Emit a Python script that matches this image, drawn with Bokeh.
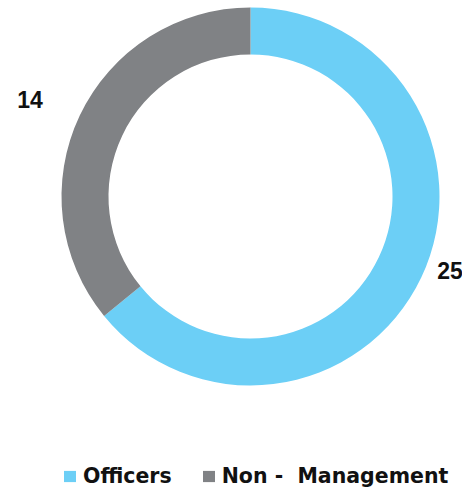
import math
from bokeh.plotting import figure
from bokeh.models import ColumnDataSource, Range1d
from bokeh.core.properties import value
from bokeh.embed import file_html
from bokeh.resources import INLINE

# ---- data ----
categories = ["Officers", "Non -  Management"]
values = [25, 14]
colors = ["#6CCFF6", "#808285"]

# ---- layout (figure pixel space, y up) ----
W, H = 462, 488
cx, cy = 250, 292
r_out, r_in = 189, 142
label_pos_x = [449.5, 29.5]
label_pos_y = [218, 389.5]

total = sum(values)
starts, ends = [], []
a = math.pi / 2
for v in values:
    starts.append(a)
    a = a - 2 * math.pi * v / total
    ends.append(a)

src = ColumnDataSource(dict(
    category=categories, value=values, color=colors,
    start=starts, end=ends,
    x=[cx] * len(values), y=[cy] * len(values),
))

p = figure(width=W, height=H, output_backend="svg", toolbar_location=None,
           x_range=Range1d(0, W), y_range=Range1d(0, H), min_border=0)
p.xaxis.visible = False
p.yaxis.visible = False
p.xgrid.visible = False
p.ygrid.visible = False
p.outline_line_color = None
p.background_fill_color = "white"
p.border_fill_color = "white"

p.annular_wedge(x="x", y="y", inner_radius=r_in, outer_radius=r_out,
                start_angle="start", end_angle="end", direction="clock",
                fill_color="color", line_color=None, source=src,
                legend_field="category")

lab = ColumnDataSource(dict(x=label_pos_x, y=label_pos_y,
                            text=[str(v) for v in values]))
p.text(x="x", y="y", text="text", source=lab, text_align="center",
       text_baseline="middle", text_font=value("Liberation Sans"),
       text_font_style="bold", text_font_size="23px", text_color="#111111")

lg = p.legend[0]
lg.orientation = "horizontal"
lg.location = (62, 0)
lg.glyph_width = 15
lg.glyph_height = 14
lg.label_standoff = 6
lg.spacing = 29
lg.padding = 0
lg.margin = 0
lg.border_line_color = None
lg.background_fill_alpha = 0
lg.label_text_font = "DejaVu Sans"
lg.label_text_font_style = "bold"
lg.label_text_font_size = "20.5px"
lg.label_text_color = "#111111"

open("out.html", "w").write(file_html(p, INLINE))
